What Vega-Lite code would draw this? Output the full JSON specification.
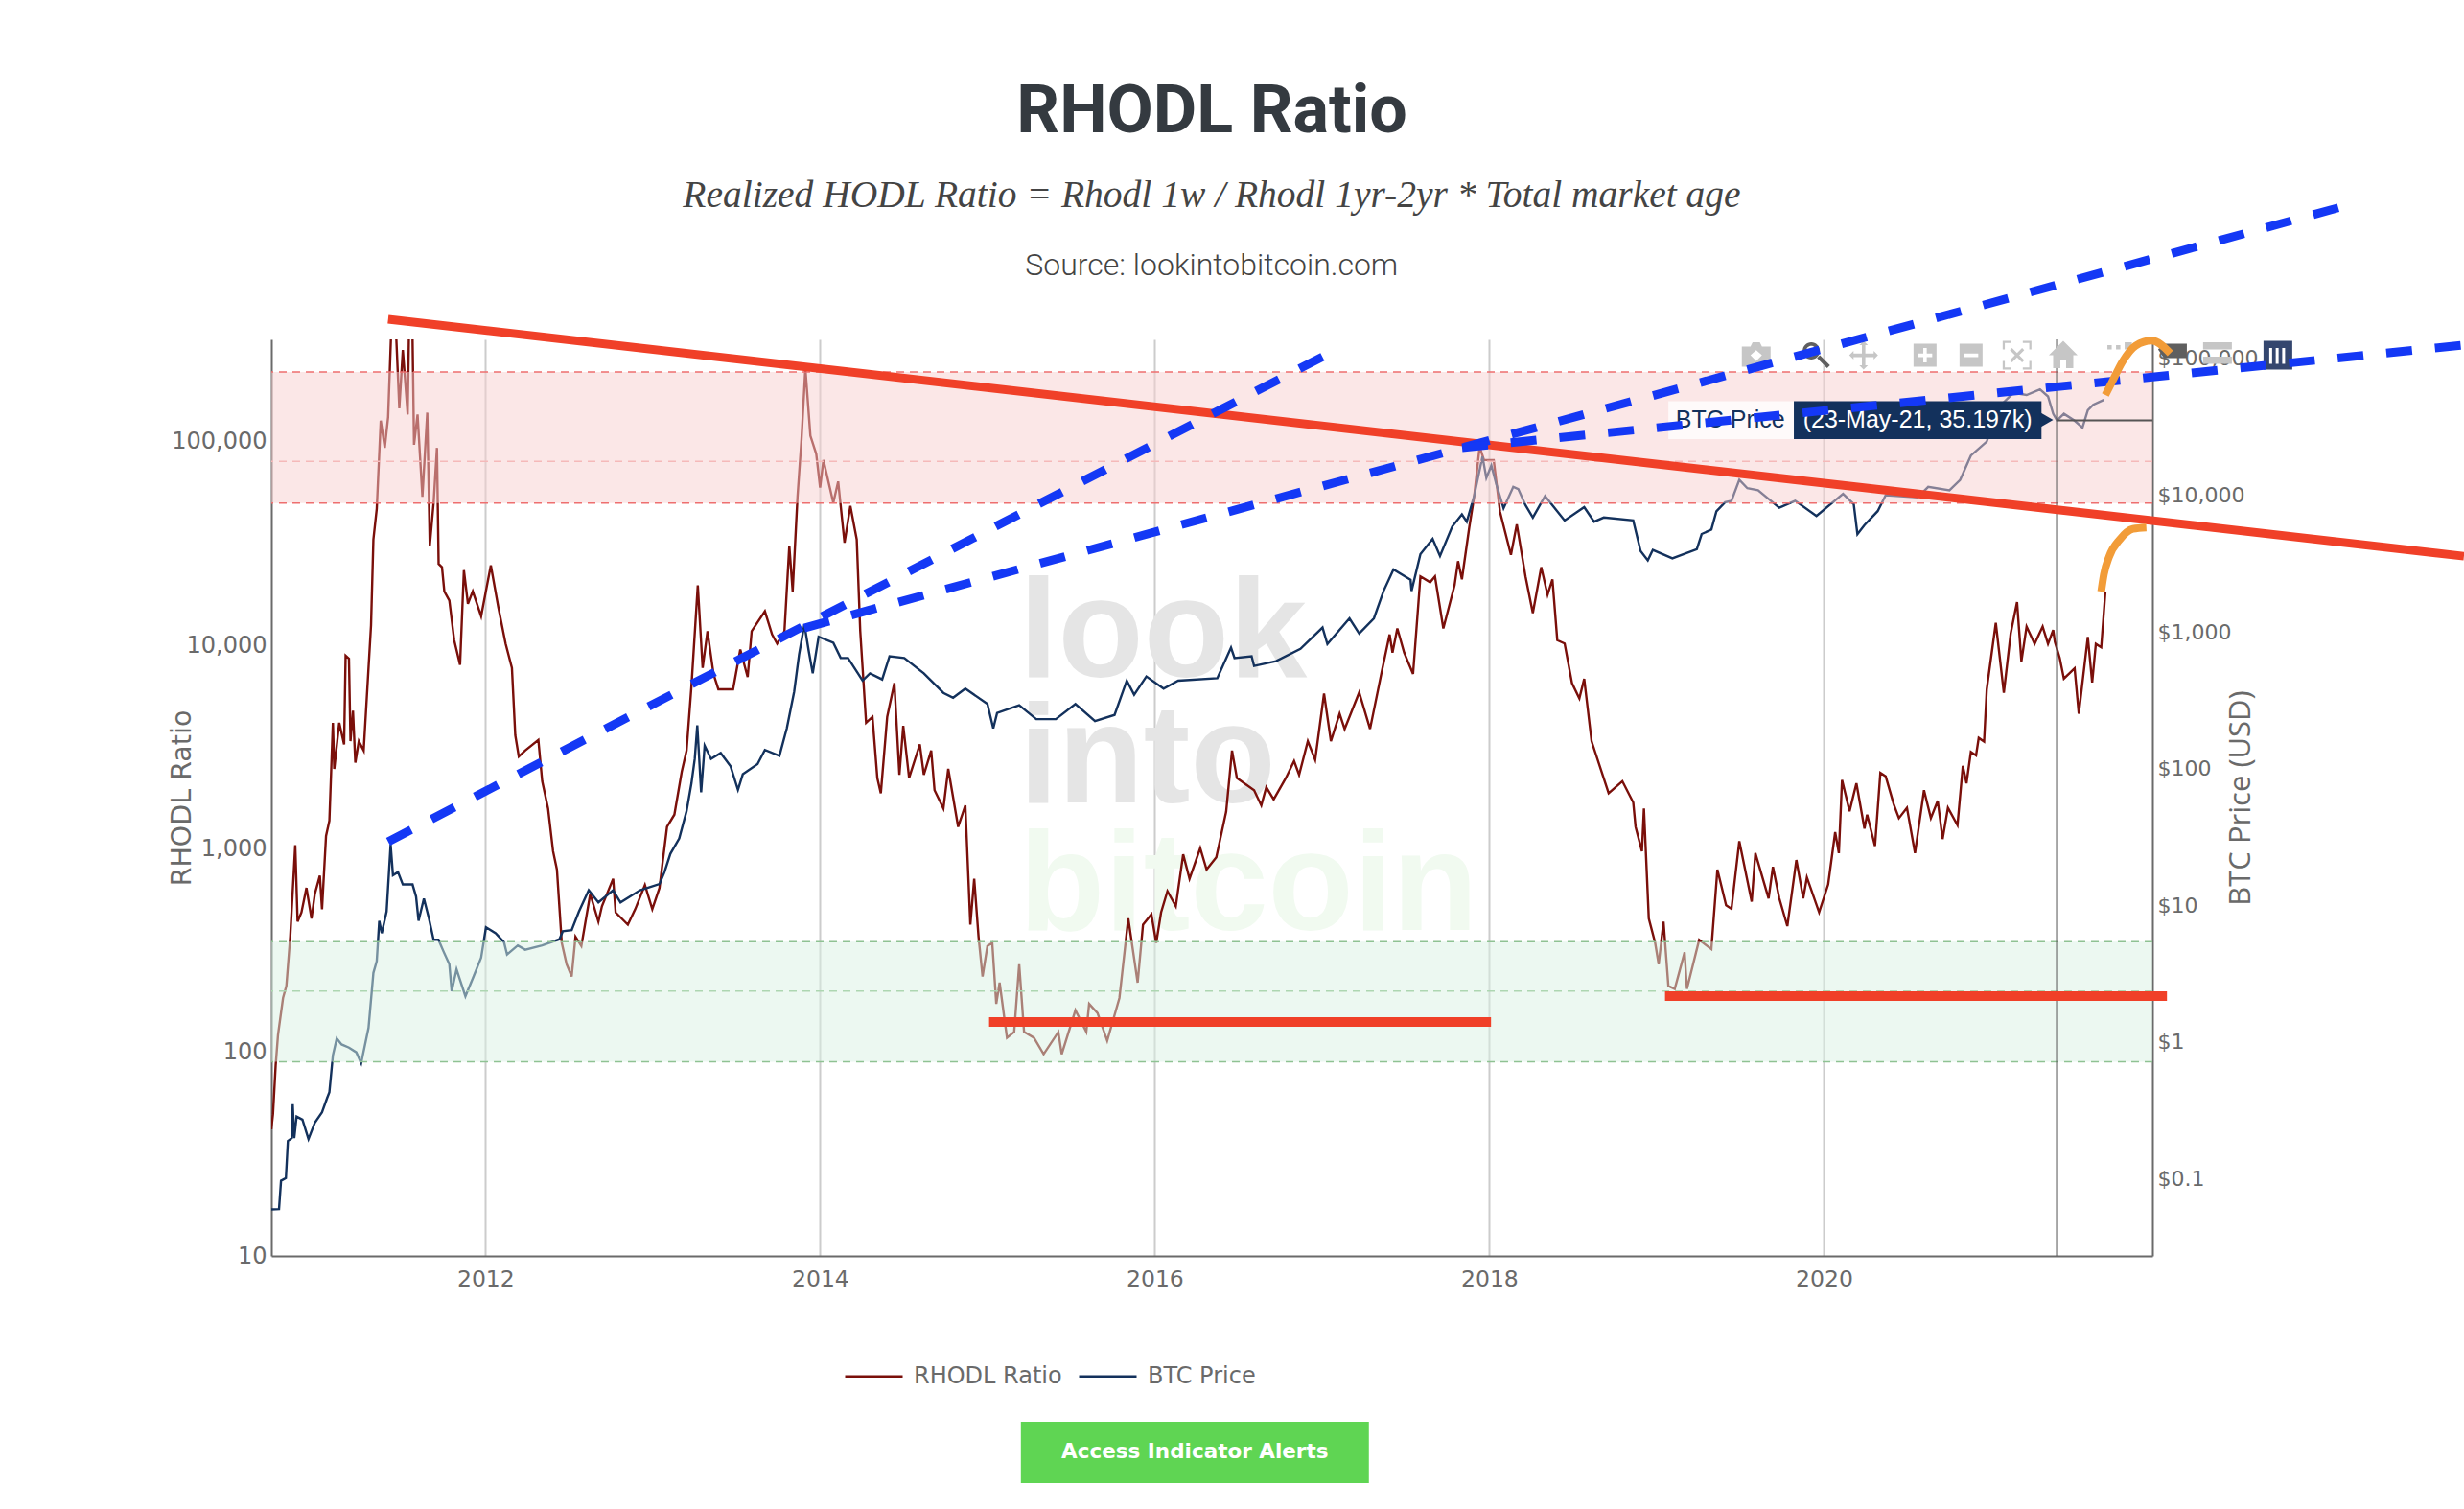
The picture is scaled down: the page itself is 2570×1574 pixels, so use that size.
{
"$schema":"https://vega.github.io/schema/vega-lite/v6.json",
"autosize":{"type":"none"},
"padding":{"left":283,"top":354,"right":325,"bottom":264},
"width":1962,"height":956,
"background":"white",
"title":{"text":"RHODL Ratio","subtitle":"Realized HODL Ratio = Rhodl 1w / Rhodl 1yr-2yr * Total market age","anchor":"middle","frame":"group","offset":-26,"font":"Roboto","fontWeight":"bold","fontSize":70,"color":"#343a40","subtitleFont":"Liberation Serif","subtitleFontStyle":"italic","subtitleFontSize":39.5,"subtitleColor":"#444444","subtitlePadding":32},
"config":{"view":{"stroke":null},"axis":{"labelFont":"DejaVu Sans","titleFont":"DejaVu Sans","labelFontSize":22,"titleFontSize":26,"labelColor":"#6a6a6a","titleColor":"#6a6a6a","titleFontWeight":"normal","ticks":false,"domainColor":"#6a6a6a","domainWidth":2}},
"datasets":{
"rhodl":[
{"year":2010.72,"value":41.9,"series":"RHODL Ratio"},{"year":2010.73,"value":49.7,"series":"RHODL Ratio"},{"year":2010.746,"value":86.5,"series":"RHODL Ratio"},{"year":2010.76,"value":122,"series":"RHODL Ratio"},{"year":2010.79,"value":185,"series":"RHODL Ratio"},{"year":2010.81,"value":212,"series":"RHODL Ratio"},{"year":2010.833,"value":370,"series":"RHODL Ratio"},{"year":2010.863,"value":1042,"series":"RHODL Ratio"},{"year":2010.877,"value":439,"series":"RHODL Ratio"},{"year":2010.9,"value":487,"series":"RHODL Ratio"},{"year":2010.93,"value":643,"series":"RHODL Ratio"},{"year":2010.96,"value":455,"series":"RHODL Ratio"},{"year":2010.98,"value":600,"series":"RHODL Ratio"},{"year":2011.01,"value":738,"series":"RHODL Ratio"},{"year":2011.023,"value":505,"series":"RHODL Ratio"},{"year":2011.047,"value":1156,"series":"RHODL Ratio"},{"year":2011.067,"value":1374,"series":"RHODL Ratio"},{"year":2011.088,"value":4160,"series":"RHODL Ratio"},{"year":2011.096,"value":2470,"series":"RHODL Ratio"},{"year":2011.126,"value":4160,"series":"RHODL Ratio"},{"year":2011.155,"value":3260,"series":"RHODL Ratio"},{"year":2011.164,"value":8890,"series":"RHODL Ratio"},{"year":2011.184,"value":8590,"series":"RHODL Ratio"},{"year":2011.193,"value":3380,"series":"RHODL Ratio"},{"year":2011.208,"value":4775,"series":"RHODL Ratio"},{"year":2011.222,"value":2650,"series":"RHODL Ratio"},{"year":2011.243,"value":3380,"series":"RHODL Ratio"},{"year":2011.272,"value":3040,"series":"RHODL Ratio"},{"year":2011.316,"value":12560,"series":"RHODL Ratio"},{"year":2011.33,"value":33100,"series":"RHODL Ratio"},{"year":2011.35,"value":46700,"series":"RHODL Ratio"},{"year":2011.374,"value":127000,"series":"RHODL Ratio"},{"year":2011.398,"value":93300,"series":"RHODL Ratio"},{"year":2011.418,"value":132000,"series":"RHODL Ratio"},{"year":2011.439,"value":400000,"series":"RHODL Ratio"},{"year":2011.462,"value":400000,"series":"RHODL Ratio"},{"year":2011.485,"value":146000,"series":"RHODL Ratio"},{"year":2011.506,"value":282000,"series":"RHODL Ratio"},{"year":2011.535,"value":136000,"series":"RHODL Ratio"},{"year":2011.544,"value":400000,"series":"RHODL Ratio"},{"year":2011.564,"value":330000,"series":"RHODL Ratio"},{"year":2011.573,"value":96600,"series":"RHODL Ratio"},{"year":2011.594,"value":136000,"series":"RHODL Ratio"},{"year":2011.623,"value":53700,"series":"RHODL Ratio"},{"year":2011.652,"value":139000,"series":"RHODL Ratio"},{"year":2011.667,"value":30800,"series":"RHODL Ratio"},{"year":2011.69,"value":50100,"series":"RHODL Ratio"},{"year":2011.71,"value":93300,"series":"RHODL Ratio"},{"year":2011.72,"value":25100,"series":"RHODL Ratio"},{"year":2011.74,"value":24200,"series":"RHODL Ratio"},{"year":2011.754,"value":18400,"series":"RHODL Ratio"},{"year":2011.784,"value":16600,"series":"RHODL Ratio"},{"year":2011.813,"value":10600,"series":"RHODL Ratio"},{"year":2011.848,"value":8010,"series":"RHODL Ratio"},{"year":2011.871,"value":23400,"series":"RHODL Ratio"},{"year":2011.895,"value":16000,"series":"RHODL Ratio"},{"year":2011.924,"value":18400,"series":"RHODL Ratio"},{"year":2011.974,"value":13900,"series":"RHODL Ratio"},{"year":2012.032,"value":24700,"series":"RHODL Ratio"},{"year":2012.076,"value":15500,"series":"RHODL Ratio"},{"year":2012.12,"value":10200,"series":"RHODL Ratio"},{"year":2012.158,"value":7740,"series":"RHODL Ratio"},{"year":2012.178,"value":3620,"series":"RHODL Ratio"},{"year":2012.199,"value":2840,"series":"RHODL Ratio"},{"year":2012.237,"value":3040,"series":"RHODL Ratio"},{"year":2012.316,"value":3430,"series":"RHODL Ratio"},{"year":2012.339,"value":2150,"series":"RHODL Ratio"},{"year":2012.374,"value":1580,"series":"RHODL Ratio"},{"year":2012.404,"value":973,"series":"RHODL Ratio"},{"year":2012.427,"value":791,"series":"RHODL Ratio"},{"year":2012.456,"value":345,"series":"RHODL Ratio"},{"year":2012.485,"value":271,"series":"RHODL Ratio"},{"year":2012.515,"value":236,"series":"RHODL Ratio"},{"year":2012.538,"value":370,"series":"RHODL Ratio"},{"year":2012.573,"value":333,"series":"RHODL Ratio"},{"year":2012.626,"value":600,"series":"RHODL Ratio"},{"year":2012.675,"value":439,"series":"RHODL Ratio"},{"year":2012.696,"value":522,"series":"RHODL Ratio"},{"year":2012.763,"value":713,"series":"RHODL Ratio"},{"year":2012.778,"value":487,"series":"RHODL Ratio"},{"year":2012.851,"value":424,"series":"RHODL Ratio"},{"year":2012.895,"value":505,"series":"RHODL Ratio"},{"year":2012.953,"value":665,"series":"RHODL Ratio"},{"year":2012.997,"value":505,"series":"RHODL Ratio"},{"year":2013.04,"value":643,"series":"RHODL Ratio"},{"year":2013.085,"value":1282,"series":"RHODL Ratio"},{"year":2013.129,"value":1472,"series":"RHODL Ratio"},{"year":2013.173,"value":2390,"series":"RHODL Ratio"},{"year":2013.202,"value":3040,"series":"RHODL Ratio"},{"year":2013.231,"value":6290,"series":"RHODL Ratio"},{"year":2013.269,"value":19700,"series":"RHODL Ratio"},{"year":2013.298,"value":7740,"series":"RHODL Ratio"},{"year":2013.327,"value":11720,"series":"RHODL Ratio"},{"year":2013.363,"value":7230,"series":"RHODL Ratio"},{"year":2013.392,"value":6080,"series":"RHODL Ratio"},{"year":2013.48,"value":6080,"series":"RHODL Ratio"},{"year":2013.523,"value":9530,"series":"RHODL Ratio"},{"year":2013.567,"value":6980,"series":"RHODL Ratio"},{"year":2013.591,"value":11720,"series":"RHODL Ratio"},{"year":2013.67,"value":14700,"series":"RHODL Ratio"},{"year":2013.713,"value":11300,"series":"RHODL Ratio"},{"year":2013.743,"value":10200,"series":"RHODL Ratio"},{"year":2013.787,"value":11720,"series":"RHODL Ratio"},{"year":2013.816,"value":30800,"series":"RHODL Ratio"},{"year":2013.836,"value":18400,"series":"RHODL Ratio"},{"year":2013.865,"value":53700,"series":"RHODL Ratio"},{"year":2013.889,"value":103500,"series":"RHODL Ratio"},{"year":2013.912,"value":229000,"series":"RHODL Ratio"},{"year":2013.942,"value":107000,"series":"RHODL Ratio"},{"year":2013.977,"value":87100,"series":"RHODL Ratio"},{"year":2014.0,"value":59600,"series":"RHODL Ratio"},{"year":2014.02,"value":81300,"series":"RHODL Ratio"},{"year":2014.079,"value":50100,"series":"RHODL Ratio"},{"year":2014.108,"value":63800,"series":"RHODL Ratio"},{"year":2014.146,"value":31900,"series":"RHODL Ratio"},{"year":2014.181,"value":48400,"series":"RHODL Ratio"},{"year":2014.219,"value":33100,"series":"RHODL Ratio"},{"year":2014.24,"value":11720,"series":"RHODL Ratio"},{"year":2014.275,"value":4160,"series":"RHODL Ratio"},{"year":2014.313,"value":4450,"series":"RHODL Ratio"},{"year":2014.342,"value":2230,"series":"RHODL Ratio"},{"year":2014.363,"value":1875,"series":"RHODL Ratio"},{"year":2014.401,"value":4450,"series":"RHODL Ratio"},{"year":2014.444,"value":6520,"series":"RHODL Ratio"},{"year":2014.474,"value":2310,"series":"RHODL Ratio"},{"year":2014.497,"value":4020,"series":"RHODL Ratio"},{"year":2014.532,"value":2230,"series":"RHODL Ratio"},{"year":2014.596,"value":3260,"series":"RHODL Ratio"},{"year":2014.62,"value":2310,"series":"RHODL Ratio"},{"year":2014.664,"value":3040,"series":"RHODL Ratio"},{"year":2014.684,"value":1940,"series":"RHODL Ratio"},{"year":2014.737,"value":1580,"series":"RHODL Ratio"},{"year":2014.766,"value":2470,"series":"RHODL Ratio"},{"year":2014.825,"value":1282,"series":"RHODL Ratio"},{"year":2014.868,"value":1633,"series":"RHODL Ratio"},{"year":2014.898,"value":424,"series":"RHODL Ratio"},{"year":2014.921,"value":713,"series":"RHODL Ratio"},{"year":2014.947,"value":370,"series":"RHODL Ratio"},{"year":2014.971,"value":236,"series":"RHODL Ratio"},{"year":2015.0,"value":333,"series":"RHODL Ratio"},{"year":2015.029,"value":345,"series":"RHODL Ratio"},{"year":2015.053,"value":173,"series":"RHODL Ratio"},{"year":2015.073,"value":220,"series":"RHODL Ratio"},{"year":2015.117,"value":118,"series":"RHODL Ratio"},{"year":2015.16,"value":126,"series":"RHODL Ratio"},{"year":2015.19,"value":271,"series":"RHODL Ratio"},{"year":2015.219,"value":126,"series":"RHODL Ratio"},{"year":2015.278,"value":118,"series":"RHODL Ratio"},{"year":2015.336,"value":98,"series":"RHODL Ratio"},{"year":2015.424,"value":126,"series":"RHODL Ratio"},{"year":2015.444,"value":98,"series":"RHODL Ratio"},{"year":2015.526,"value":161,"series":"RHODL Ratio"},{"year":2015.591,"value":126,"series":"RHODL Ratio"},{"year":2015.608,"value":173,"series":"RHODL Ratio"},{"year":2015.658,"value":156,"series":"RHODL Ratio"},{"year":2015.716,"value":114,"series":"RHODL Ratio"},{"year":2015.789,"value":185,"series":"RHODL Ratio"},{"year":2015.842,"value":455,"series":"RHODL Ratio"},{"year":2015.898,"value":220,"series":"RHODL Ratio"},{"year":2015.93,"value":424,"series":"RHODL Ratio"},{"year":2015.98,"value":477,"series":"RHODL Ratio"},{"year":2016.009,"value":345,"series":"RHODL Ratio"},{"year":2016.038,"value":487,"series":"RHODL Ratio"},{"year":2016.076,"value":620,"series":"RHODL Ratio"},{"year":2016.126,"value":522,"series":"RHODL Ratio"},{"year":2016.17,"value":940,"series":"RHODL Ratio"},{"year":2016.208,"value":713,"series":"RHODL Ratio"},{"year":2016.272,"value":1007,"series":"RHODL Ratio"},{"year":2016.31,"value":791,"series":"RHODL Ratio"},{"year":2016.368,"value":908,"series":"RHODL Ratio"},{"year":2016.427,"value":1524,"series":"RHODL Ratio"},{"year":2016.462,"value":3040,"series":"RHODL Ratio"},{"year":2016.491,"value":2230,"series":"RHODL Ratio"},{"year":2016.594,"value":1940,"series":"RHODL Ratio"},{"year":2016.637,"value":1633,"series":"RHODL Ratio"},{"year":2016.667,"value":2010,"series":"RHODL Ratio"},{"year":2016.711,"value":1750,"series":"RHODL Ratio"},{"year":2016.784,"value":2230,"series":"RHODL Ratio"},{"year":2016.833,"value":2700,"series":"RHODL Ratio"},{"year":2016.863,"value":2310,"series":"RHODL Ratio"},{"year":2016.915,"value":3380,"series":"RHODL Ratio"},{"year":2016.959,"value":2740,"series":"RHODL Ratio"},{"year":2017.012,"value":5790,"series":"RHODL Ratio"},{"year":2017.053,"value":3380,"series":"RHODL Ratio"},{"year":2017.105,"value":4610,"series":"RHODL Ratio"},{"year":2017.135,"value":3880,"series":"RHODL Ratio"},{"year":2017.222,"value":5870,"series":"RHODL Ratio"},{"year":2017.287,"value":3880,"series":"RHODL Ratio"},{"year":2017.354,"value":7230,"series":"RHODL Ratio"},{"year":2017.404,"value":11300,"series":"RHODL Ratio"},{"year":2017.421,"value":9200,"series":"RHODL Ratio"},{"year":2017.45,"value":12100,"series":"RHODL Ratio"},{"year":2017.491,"value":9200,"series":"RHODL Ratio"},{"year":2017.544,"value":7230,"series":"RHODL Ratio"},{"year":2017.588,"value":21800,"series":"RHODL Ratio"},{"year":2017.646,"value":20400,"series":"RHODL Ratio"},{"year":2017.675,"value":21800,"series":"RHODL Ratio"},{"year":2017.725,"value":12100,"series":"RHODL Ratio"},{"year":2017.792,"value":19700,"series":"RHODL Ratio"},{"year":2017.813,"value":25900,"series":"RHODL Ratio"},{"year":2017.836,"value":21100,"series":"RHODL Ratio"},{"year":2017.88,"value":38000,"series":"RHODL Ratio"},{"year":2017.909,"value":53700,"series":"RHODL Ratio"},{"year":2017.942,"value":94600,"series":"RHODL Ratio"},{"year":2017.968,"value":81300,"series":"RHODL Ratio"},{"year":2018.026,"value":81300,"series":"RHODL Ratio"},{"year":2018.064,"value":45200,"series":"RHODL Ratio"},{"year":2018.129,"value":27800,"series":"RHODL Ratio"},{"year":2018.164,"value":39300,"series":"RHODL Ratio"},{"year":2018.216,"value":21800,"series":"RHODL Ratio"},{"year":2018.26,"value":14400,"series":"RHODL Ratio"},{"year":2018.31,"value":24200,"series":"RHODL Ratio"},{"year":2018.348,"value":17700,"series":"RHODL Ratio"},{"year":2018.377,"value":21100,"series":"RHODL Ratio"},{"year":2018.406,"value":10600,"series":"RHODL Ratio"},{"year":2018.45,"value":10200,"series":"RHODL Ratio"},{"year":2018.494,"value":6520,"series":"RHODL Ratio"},{"year":2018.538,"value":5480,"series":"RHODL Ratio"},{"year":2018.567,"value":6840,"series":"RHODL Ratio"},{"year":2018.611,"value":3380,"series":"RHODL Ratio"},{"year":2018.713,"value":1875,"series":"RHODL Ratio"},{"year":2018.795,"value":2150,"series":"RHODL Ratio"},{"year":2018.86,"value":1690,"series":"RHODL Ratio"},{"year":2018.874,"value":1282,"series":"RHODL Ratio"},{"year":2018.912,"value":973,"series":"RHODL Ratio"},{"year":2018.924,"value":1580,"series":"RHODL Ratio"},{"year":2018.953,"value":455,"series":"RHODL Ratio"},{"year":2018.991,"value":345,"series":"RHODL Ratio"},{"year":2019.012,"value":271,"series":"RHODL Ratio"},{"year":2019.041,"value":439,"series":"RHODL Ratio"},{"year":2019.07,"value":212,"series":"RHODL Ratio"},{"year":2019.108,"value":205,"series":"RHODL Ratio"},{"year":2019.167,"value":310,"series":"RHODL Ratio"},{"year":2019.181,"value":205,"series":"RHODL Ratio"},{"year":2019.254,"value":357,"series":"RHODL Ratio"},{"year":2019.327,"value":322,"series":"RHODL Ratio"},{"year":2019.363,"value":791,"series":"RHODL Ratio"},{"year":2019.415,"value":528,"series":"RHODL Ratio"},{"year":2019.447,"value":507,"series":"RHODL Ratio"},{"year":2019.494,"value":1090,"series":"RHODL Ratio"},{"year":2019.568,"value":550,"series":"RHODL Ratio"},{"year":2019.59,"value":953,"series":"RHODL Ratio"},{"year":2019.669,"value":571,"series":"RHODL Ratio"},{"year":2019.695,"value":815,"series":"RHODL Ratio"},{"year":2019.733,"value":571,"series":"RHODL Ratio"},{"year":2019.781,"value":417,"series":"RHODL Ratio"},{"year":2019.835,"value":881,"series":"RHODL Ratio"},{"year":2019.876,"value":571,"series":"RHODL Ratio"},{"year":2019.898,"value":724,"series":"RHODL Ratio"},{"year":2019.971,"value":488,"series":"RHODL Ratio"},{"year":2020.025,"value":668,"series":"RHODL Ratio"},{"year":2020.067,"value":1208,"series":"RHODL Ratio"},{"year":2020.089,"value":953,"series":"RHODL Ratio"},{"year":2020.108,"value":2182,"series":"RHODL Ratio"},{"year":2020.153,"value":1531,"series":"RHODL Ratio"},{"year":2020.194,"value":2100,"series":"RHODL Ratio"},{"year":2020.242,"value":1257,"series":"RHODL Ratio"},{"year":2020.258,"value":1472,"series":"RHODL Ratio"},{"year":2020.305,"value":1032,"series":"RHODL Ratio"},{"year":2020.337,"value":2360,"series":"RHODL Ratio"},{"year":2020.369,"value":2270,"series":"RHODL Ratio"},{"year":2020.417,"value":1656,"series":"RHODL Ratio"},{"year":2020.448,"value":1415,"series":"RHODL Ratio"},{"year":2020.496,"value":1592,"series":"RHODL Ratio"},{"year":2020.544,"value":953,"series":"RHODL Ratio"},{"year":2020.598,"value":1940,"series":"RHODL Ratio"},{"year":2020.639,"value":1415,"series":"RHODL Ratio"},{"year":2020.68,"value":1722,"series":"RHODL Ratio"},{"year":2020.709,"value":1117,"series":"RHODL Ratio"},{"year":2020.741,"value":1592,"series":"RHODL Ratio"},{"year":2020.798,"value":1307,"series":"RHODL Ratio"},{"year":2020.83,"value":2559,"series":"RHODL Ratio"},{"year":2020.852,"value":2100,"series":"RHODL Ratio"},{"year":2020.878,"value":2992,"series":"RHODL Ratio"},{"year":2020.909,"value":2877,"series":"RHODL Ratio"},{"year":2020.925,"value":3508,"series":"RHODL Ratio"},{"year":2020.957,"value":3365,"series":"RHODL Ratio"},{"year":2020.973,"value":6080,"series":"RHODL Ratio"},{"year":2021.027,"value":12880,"series":"RHODL Ratio"},{"year":2021.075,"value":5850,"series":"RHODL Ratio"},{"year":2021.116,"value":11430,"series":"RHODL Ratio"},{"year":2021.154,"value":16300,"series":"RHODL Ratio"},{"year":2021.18,"value":8340,"series":"RHODL Ratio"},{"year":2021.211,"value":12360,"series":"RHODL Ratio"},{"year":2021.259,"value":10160,"series":"RHODL Ratio"},{"year":2021.307,"value":12360,"series":"RHODL Ratio"},{"year":2021.339,"value":10160,"series":"RHODL Ratio"},{"year":2021.37,"value":11880,"series":"RHODL Ratio"},{"year":2021.38,"value":10400,"series":"RHODL Ratio"},{"year":2021.409,"value":8670,"series":"RHODL Ratio"},{"year":2021.434,"value":6850,"series":"RHODL Ratio"},{"year":2021.498,"value":7700,"series":"RHODL Ratio"},{"year":2021.523,"value":4610,"series":"RHODL Ratio"},{"year":2021.577,"value":11000,"series":"RHODL Ratio"},{"year":2021.603,"value":6570,"series":"RHODL Ratio"},{"year":2021.625,"value":10160,"series":"RHODL Ratio"},{"year":2021.657,"value":9770,"series":"RHODL Ratio"},{"year":2021.682,"value":18370,"series":"RHODL Ratio"}
],
"price":[
{"year":2010.72,"value":0.0596,"series":"BTC Price"},{"year":2010.766,"value":0.06,"series":"BTC Price"},{"year":2010.778,"value":0.0966,"series":"BTC Price"},{"year":2010.807,"value":0.101,"series":"BTC Price"},{"year":2010.819,"value":0.189,"series":"BTC Price"},{"year":2010.842,"value":0.198,"series":"BTC Price"},{"year":2010.848,"value":0.35,"series":"BTC Price"},{"year":2010.857,"value":0.198,"series":"BTC Price"},{"year":2010.871,"value":0.285,"series":"BTC Price"},{"year":2010.906,"value":0.27,"series":"BTC Price"},{"year":2010.942,"value":0.195,"series":"BTC Price"},{"year":2010.98,"value":0.257,"series":"BTC Price"},{"year":2011.023,"value":0.306,"series":"BTC Price"},{"year":2011.053,"value":0.388,"series":"BTC Price"},{"year":2011.067,"value":0.43,"series":"BTC Price"},{"year":2011.088,"value":0.8,"series":"BTC Price"},{"year":2011.111,"value":1.06,"series":"BTC Price"},{"year":2011.14,"value":0.96,"series":"BTC Price"},{"year":2011.184,"value":0.91,"series":"BTC Price"},{"year":2011.228,"value":0.84,"series":"BTC Price"},{"year":2011.257,"value":0.7,"series":"BTC Price"},{"year":2011.301,"value":1.27,"series":"BTC Price"},{"year":2011.33,"value":3.2,"series":"BTC Price"},{"year":2011.35,"value":3.9,"series":"BTC Price"},{"year":2011.365,"value":7.7,"series":"BTC Price"},{"year":2011.38,"value":6.25,"series":"BTC Price"},{"year":2011.409,"value":9,"series":"BTC Price"},{"year":2011.433,"value":27.8,"series":"BTC Price"},{"year":2011.447,"value":16.6,"series":"BTC Price"},{"year":2011.477,"value":17.5,"series":"BTC Price"},{"year":2011.506,"value":14.2,"series":"BTC Price"},{"year":2011.564,"value":14.2,"series":"BTC Price"},{"year":2011.585,"value":11.6,"series":"BTC Price"},{"year":2011.6,"value":7.7,"series":"BTC Price"},{"year":2011.632,"value":11.2,"series":"BTC Price"},{"year":2011.661,"value":8.1,"series":"BTC Price"},{"year":2011.69,"value":5.6,"series":"BTC Price"},{"year":2011.719,"value":5.6,"series":"BTC Price"},{"year":2011.749,"value":4.6,"series":"BTC Price"},{"year":2011.784,"value":3.7,"series":"BTC Price"},{"year":2011.798,"value":2.35,"series":"BTC Price"},{"year":2011.827,"value":3.4,"series":"BTC Price"},{"year":2011.88,"value":2.16,"series":"BTC Price"},{"year":2011.93,"value":3.04,"series":"BTC Price"},{"year":2011.974,"value":4.14,"series":"BTC Price"},{"year":2012.003,"value":6.9,"series":"BTC Price"},{"year":2012.061,"value":6.25,"series":"BTC Price"},{"year":2012.111,"value":5.36,"series":"BTC Price"},{"year":2012.129,"value":4.36,"series":"BTC Price"},{"year":2012.193,"value":5.09,"series":"BTC Price"},{"year":2012.237,"value":4.73,"series":"BTC Price"},{"year":2012.339,"value":5.09,"series":"BTC Price"},{"year":2012.442,"value":5.64,"series":"BTC Price"},{"year":2012.462,"value":6.45,"series":"BTC Price"},{"year":2012.515,"value":6.58,"series":"BTC Price"},{"year":2012.558,"value":8.97,"series":"BTC Price"},{"year":2012.617,"value":12.9,"series":"BTC Price"},{"year":2012.675,"value":10.5,"series":"BTC Price"},{"year":2012.763,"value":12.9,"series":"BTC Price"},{"year":2012.807,"value":10.5,"series":"BTC Price"},{"year":2012.924,"value":12.9,"series":"BTC Price"},{"year":2013.04,"value":14.3,"series":"BTC Price"},{"year":2013.07,"value":17.5,"series":"BTC Price"},{"year":2013.105,"value":23.8,"series":"BTC Price"},{"year":2013.158,"value":30.8,"series":"BTC Price"},{"year":2013.202,"value":49,"series":"BTC Price"},{"year":2013.231,"value":78,"series":"BTC Price"},{"year":2013.251,"value":118,"series":"BTC Price"},{"year":2013.266,"value":207,"series":"BTC Price"},{"year":2013.289,"value":67,"series":"BTC Price"},{"year":2013.31,"value":147,"series":"BTC Price"},{"year":2013.348,"value":118,"series":"BTC Price"},{"year":2013.406,"value":130,"series":"BTC Price"},{"year":2013.465,"value":104,"series":"BTC Price"},{"year":2013.509,"value":70,"series":"BTC Price"},{"year":2013.538,"value":91,"series":"BTC Price"},{"year":2013.626,"value":108,"series":"BTC Price"},{"year":2013.67,"value":137,"series":"BTC Price"},{"year":2013.757,"value":124,"series":"BTC Price"},{"year":2013.801,"value":197,"series":"BTC Price"},{"year":2013.845,"value":365,"series":"BTC Price"},{"year":2013.874,"value":680,"series":"BTC Price"},{"year":2013.906,"value":1135,"series":"BTC Price"},{"year":2013.933,"value":713,"series":"BTC Price"},{"year":2013.956,"value":497,"series":"BTC Price"},{"year":2013.991,"value":923,"series":"BTC Price"},{"year":2014.079,"value":832,"series":"BTC Price"},{"year":2014.123,"value":644,"series":"BTC Price"},{"year":2014.167,"value":644,"series":"BTC Price"},{"year":2014.254,"value":440,"series":"BTC Price"},{"year":2014.298,"value":497,"series":"BTC Price"},{"year":2014.371,"value":449,"series":"BTC Price"},{"year":2014.415,"value":664,"series":"BTC Price"},{"year":2014.503,"value":644,"series":"BTC Price"},{"year":2014.62,"value":497,"series":"BTC Price"},{"year":2014.737,"value":358,"series":"BTC Price"},{"year":2014.795,"value":330,"series":"BTC Price"},{"year":2014.868,"value":385,"series":"BTC Price"},{"year":2015.0,"value":297,"series":"BTC Price"},{"year":2015.035,"value":197,"series":"BTC Price"},{"year":2015.058,"value":255,"series":"BTC Price"},{"year":2015.19,"value":291,"series":"BTC Price"},{"year":2015.292,"value":230,"series":"BTC Price"},{"year":2015.409,"value":230,"series":"BTC Price"},{"year":2015.526,"value":297,"series":"BTC Price"},{"year":2015.643,"value":223,"series":"BTC Price"},{"year":2015.76,"value":247,"series":"BTC Price"},{"year":2015.833,"value":440,"series":"BTC Price"},{"year":2015.877,"value":347,"series":"BTC Price"},{"year":2015.95,"value":472,"series":"BTC Price"},{"year":2016.053,"value":385,"series":"BTC Price"},{"year":2016.14,"value":440,"series":"BTC Price"},{"year":2016.374,"value":458,"series":"BTC Price"},{"year":2016.456,"value":767,"series":"BTC Price"},{"year":2016.477,"value":644,"series":"BTC Price"},{"year":2016.579,"value":664,"series":"BTC Price"},{"year":2016.594,"value":563,"series":"BTC Price"},{"year":2016.725,"value":611,"series":"BTC Price"},{"year":2016.871,"value":751,"series":"BTC Price"},{"year":2017.003,"value":1076,"series":"BTC Price"},{"year":2017.032,"value":815,"series":"BTC Price"},{"year":2017.164,"value":1256,"series":"BTC Price"},{"year":2017.222,"value":971,"series":"BTC Price"},{"year":2017.31,"value":1256,"series":"BTC Price"},{"year":2017.368,"value":1995,"series":"BTC Price"},{"year":2017.427,"value":2866,"series":"BTC Price"},{"year":2017.529,"value":2405,"series":"BTC Price"},{"year":2017.535,"value":1995,"series":"BTC Price"},{"year":2017.588,"value":3704,"series":"BTC Price"},{"year":2017.661,"value":4790,"series":"BTC Price"},{"year":2017.705,"value":3596,"series":"BTC Price"},{"year":2017.778,"value":5890,"series":"BTC Price"},{"year":2017.836,"value":7240,"series":"BTC Price"},{"year":2017.865,"value":6390,"series":"BTC Price"},{"year":2017.909,"value":9860,"series":"BTC Price"},{"year":2017.959,"value":19200,"series":"BTC Price"},{"year":2017.982,"value":13400,"series":"BTC Price"},{"year":2018.012,"value":16500,"series":"BTC Price"},{"year":2018.041,"value":12100,"series":"BTC Price"},{"year":2018.085,"value":8020,"series":"BTC Price"},{"year":2018.143,"value":11500,"series":"BTC Price"},{"year":2018.173,"value":11100,"series":"BTC Price"},{"year":2018.216,"value":8450,"series":"BTC Price"},{"year":2018.26,"value":6870,"series":"BTC Price"},{"year":2018.333,"value":9860,"series":"BTC Price"},{"year":2018.45,"value":6530,"series":"BTC Price"},{"year":2018.567,"value":8180,"series":"BTC Price"},{"year":2018.626,"value":6400,"series":"BTC Price"},{"year":2018.684,"value":6870,"series":"BTC Price"},{"year":2018.86,"value":6530,"series":"BTC Price"},{"year":2018.904,"value":3900,"series":"BTC Price"},{"year":2018.947,"value":3340,"series":"BTC Price"},{"year":2018.977,"value":3980,"series":"BTC Price"},{"year":2019.094,"value":3450,"series":"BTC Price"},{"year":2019.24,"value":4030,"series":"BTC Price"},{"year":2019.269,"value":5200,"series":"BTC Price"},{"year":2019.327,"value":5600,"series":"BTC Price"},{"year":2019.357,"value":7620,"series":"BTC Price"},{"year":2019.409,"value":8890,"series":"BTC Price"},{"year":2019.447,"value":9100,"series":"BTC Price"},{"year":2019.494,"value":12950,"series":"BTC Price"},{"year":2019.542,"value":11250,"series":"BTC Price"},{"year":2019.606,"value":10860,"series":"BTC Price"},{"year":2019.733,"value":8100,"series":"BTC Price"},{"year":2019.828,"value":9100,"series":"BTC Price"},{"year":2019.955,"value":7040,"series":"BTC Price"},{"year":2020.114,"value":10230,"series":"BTC Price"},{"year":2020.178,"value":8590,"series":"BTC Price"},{"year":2020.2,"value":5190,"series":"BTC Price"},{"year":2020.242,"value":6040,"series":"BTC Price"},{"year":2020.321,"value":7640,"series":"BTC Price"},{"year":2020.369,"value":10000,"series":"BTC Price"},{"year":2020.56,"value":9660,"series":"BTC Price"},{"year":2020.623,"value":11500,"series":"BTC Price"},{"year":2020.75,"value":10860,"series":"BTC Price"},{"year":2020.814,"value":12950,"series":"BTC Price"},{"year":2020.878,"value":19500,"series":"BTC Price"},{"year":2020.973,"value":24700,"series":"BTC Price"},{"year":2021.037,"value":41800,"series":"BTC Price"},{"year":2021.068,"value":47000,"series":"BTC Price"},{"year":2021.132,"value":56000,"series":"BTC Price"},{"year":2021.211,"value":54100,"series":"BTC Price"},{"year":2021.291,"value":59400,"series":"BTC Price"},{"year":2021.339,"value":52800,"series":"BTC Price"},{"year":2021.37,"value":39400,"series":"BTC Price"},{"year":2021.393,"value":35197,"series":"BTC Price"},{"year":2021.434,"value":39400,"series":"BTC Price"},{"year":2021.498,"value":35100,"series":"BTC Price"},{"year":2021.545,"value":31200,"series":"BTC Price"},{"year":2021.577,"value":41800,"series":"BTC Price"},{"year":2021.609,"value":45900,"series":"BTC Price"},{"year":2021.672,"value":49800,"series":"BTC Price"}
]
},
"resolve":{"scale":{"y":"independent"}},
"layer":[
{"data":{"values":[{"year":2015.19,"value":6998,"word":"look"},{"year":2015.19,"value":1698,"word":"into"}]},"mark":{"type":"text","font":"Liberation Sans","fontWeight":"bold","fontSize":146,"align":"left","baseline":"alphabetic","color":"#e5e5e5"},"encoding":{"x":{"field":"year","type":"quantitative","scale":{"domain":[2010.72,2021.963],"nice":false,"zero":false},"axis":{"title":null,"values":[2012,2014,2016,2018,2020],"format":"d","grid":true,"gridColor":"#cccccc","gridWidth":2,"labelPadding":12,"labelFontSize":23.5}},"y":{"field":"value","type":"quantitative","scale":{"type":"log","domain":[10,318400],"nice":false},"axis":{"orient":"left","title":"RHODL Ratio","titleFontSize":28.5,"titleX":-85,"titleY":478,"titleAlign":"center","titleBaseline":"alphabetic","values":[10,100,1000,10000,100000],"format":",","grid":false,"labelPadding":5,"labelFontSize":24}},"text":{"field":"word"}}},
{"data":{"values":[{"year":2015.19,"value":400,"word":"bitcoin"}]},"mark":{"type":"text","font":"Liberation Sans","fontWeight":"bold","fontSize":146,"align":"left","baseline":"alphabetic","color":"#f1faf0"},"encoding":{"x":{"field":"year","type":"quantitative","scale":{"domain":[2010.72,2021.963],"nice":false,"zero":false}},"y":{"field":"value","type":"quantitative","scale":{"type":"log","domain":[10,318400],"nice":false},"axis":null},"text":{"field":"word"}}},
{"data":{"name":"rhodl"},"mark":{"type":"line","strokeWidth":2.4,"clip":true,"interpolate":"linear"},"encoding":{"x":{"field":"year","type":"quantitative","scale":{"domain":[2010.72,2021.963],"nice":false,"zero":false}},"y":{"field":"value","type":"quantitative","scale":{"type":"log","domain":[10,318400],"nice":false},"axis":null},"color":{"field":"series","type":"nominal","scale":{"domain":["RHODL Ratio","BTC Price"],"range":["#7a0f0a","#13315c"]},"legend":{"title":null,"orient":"none","legendX":597,"legendY":1050,"direction":"horizontal","symbolType":"stroke","symbolSize":3600,"symbolStrokeWidth":2.5,"labelFont":"DejaVu Sans","labelFontSize":24,"labelColor":"#6a6a6a","labelOffset":10,"columnPadding":12}}}},
{"data":{"name":"price"},"mark":{"type":"line","strokeWidth":2.4,"interpolate":"linear"},"encoding":{"x":{"field":"year","type":"quantitative","scale":{"domain":[2010.72,2021.963],"nice":false,"zero":false}},"y":{"field":"value","type":"quantitative","scale":{"type":"log","domain":[0.02723,138000],"nice":false},"axis":{"orient":"right","title":"BTC Price (USD)","titleAngle":-90,"titleFont":"Open Sans","titleFontSize":31,"titleX":101,"titleY":478,"titleAlign":"center","titleBaseline":"alphabetic","values":[0.1,1,10,100,1000,10000,100000],"labelExpr":"datum.value < 1 ? '$0.1' : format(datum.value, '$,.0f')","grid":false,"labelPadding":5}},"color":{"field":"series","type":"nominal","scale":{"domain":["RHODL Ratio","BTC Price"],"range":["#7a0f0a","#13315c"]}}}},
{"data":{"values":[{"low":50000,"high":220000}]},"mark":{"type":"rect","color":"#f8d0d0","opacity":0.5},"encoding":{"y":{"field":"low","type":"quantitative","scale":{"type":"log","domain":[10,318400],"nice":false},"axis":null},"y2":{"field":"high"}}},
{"data":{"values":[{"low":90,"high":350}]},"mark":{"type":"rect","color":"#d9f1e3","opacity":0.5},"encoding":{"y":{"field":"low","type":"quantitative","scale":{"type":"log","domain":[10,318400],"nice":false},"axis":null},"y2":{"field":"high"}}},
{"data":{"values":[{"value":50000},{"value":220000}]},"mark":{"type":"rule","color":"#ee6f6f","strokeWidth":1.5,"strokeDash":[8,6]},"encoding":{"y":{"field":"value","type":"quantitative","scale":{"type":"log","domain":[10,318400],"nice":false},"axis":null}}},
{"data":{"values":[{"value":80000}]},"mark":{"type":"rule","color":"#f5b9b9","strokeWidth":1.5,"strokeDash":[8,6]},"encoding":{"y":{"field":"value","type":"quantitative","scale":{"type":"log","domain":[10,318400],"nice":false},"axis":null}}},
{"data":{"values":[{"value":90},{"value":350}]},"mark":{"type":"rule","color":"#8fc293","strokeWidth":1.5,"strokeDash":[8,6]},"encoding":{"y":{"field":"value","type":"quantitative","scale":{"type":"log","domain":[10,318400],"nice":false},"axis":null}}},
{"data":{"values":[{"value":200}]},"mark":{"type":"rule","color":"#add6b1","strokeWidth":1.5,"strokeDash":[8,6]},"encoding":{"y":{"field":"value","type":"quantitative","scale":{"type":"log","domain":[10,318400],"nice":false},"axis":null}}},
{"data":{"values":[{"year":2021.393}]},"mark":{"type":"rule","color":"#555555","strokeWidth":2},"encoding":{"x":{"field":"year","type":"quantitative","scale":{"domain":[2010.72,2021.963],"nice":false,"zero":false}}}},
{"data":{"values":[{"year":2021.393,"end":2021.963,"value":35197}]},"mark":{"type":"rule","color":"#555555","strokeWidth":2},"encoding":{"x":{"field":"year","type":"quantitative","scale":{"domain":[2010.72,2021.963],"nice":false,"zero":false}},"x2":{"field":"end"},"y":{"field":"value","type":"quantitative","scale":{"type":"log","domain":[0.02723,138000],"nice":false},"axis":null}}},
{"data":{"values":[{"start":2019.07,"end":2019.82,"low":103000,"high":158000}]},"mark":{"type":"rect","color":"#ffffff","opacity":0.8},"encoding":{"x":{"field":"start","type":"quantitative","scale":{"domain":[2010.72,2021.963],"nice":false,"zero":false}},"x2":{"field":"end"},"y":{"field":"low","type":"quantitative","scale":{"type":"log","domain":[10,318400],"nice":false},"axis":null},"y2":{"field":"high"}}},
{"data":{"values":[{"start":2019.82,"end":2021.3,"low":103000,"high":158000}]},"mark":{"type":"rect","color":"#13315c"},"encoding":{"x":{"field":"start","type":"quantitative","scale":{"domain":[2010.72,2021.963],"nice":false,"zero":false}},"x2":{"field":"end"},"y":{"field":"low","type":"quantitative","scale":{"type":"log","domain":[10,318400],"nice":false},"axis":null},"y2":{"field":"high"}}},
{"data":{"values":[{"year":2021.33,"value":128000}]},"mark":{"type":"point","shape":"triangle-right","filled":true,"color":"#13315c","opacity":1,"size":260},"encoding":{"x":{"field":"year","type":"quantitative","scale":{"domain":[2010.72,2021.963],"nice":false,"zero":false}},"y":{"field":"value","type":"quantitative","scale":{"type":"log","domain":[10,318400],"nice":false},"axis":null}}},
{"data":{"values":[{"year":2020.56,"value":128000,"label":"(23-May-21, 35.197k)"}]},"mark":{"type":"text","font":"Liberation Sans","fontSize":25,"color":"#ffffff","align":"center","baseline":"middle"},"encoding":{"x":{"field":"year","type":"quantitative","scale":{"domain":[2010.72,2021.963],"nice":false,"zero":false}},"y":{"field":"value","type":"quantitative","scale":{"type":"log","domain":[10,318400],"nice":false},"axis":null},"text":{"field":"label"}}},
{"data":{"values":[{"year":2019.44,"value":128000,"label":"BTC Price"}]},"mark":{"type":"text","font":"Liberation Sans","fontSize":25,"color":"#13315c","align":"center","baseline":"middle"},"encoding":{"x":{"field":"year","type":"quantitative","scale":{"domain":[2010.72,2021.963],"nice":false,"zero":false}},"y":{"field":"value","type":"quantitative","scale":{"type":"log","domain":[10,318400],"nice":false},"axis":null},"text":{"field":"label"}}},
{"data":{"values":[{"year":2019.595,"value":266000,"icon":"camera"},{"year":2019.95,"value":266000,"icon":"zoom"},{"year":2020.237,"value":266000,"icon":"pan"},{"year":2020.604,"value":266000,"icon":"plus"},{"year":2020.879,"value":266000,"icon":"minus"},{"year":2021.154,"value":266000,"icon":"autoscale"},{"year":2021.43,"value":266000,"icon":"home"},{"year":2021.78,"value":266000,"icon":"spike"},{"year":2022.083,"value":266000,"icon":"closest"},{"year":2022.352,"value":266000,"icon":"compare"},{"year":2022.713,"value":266000,"icon":"logo"}]},"mark":{"type":"point","filled":true,"opacity":1,"size":900},"encoding":{"x":{"field":"year","type":"quantitative","scale":{"domain":[2010.72,2021.963],"nice":false,"zero":false}},"y":{"field":"value","type":"quantitative","scale":{"type":"log","domain":[10,318400],"nice":false},"axis":null},"shape":{"field":"icon","type":"nominal","legend":null,"scale":{"domain":["camera","zoom","pan","plus","minus","autoscale","home","spike","closest","compare","logo"],"range":["M-1,-.6L-.4,-.6L-.25,-.9L.25,-.9L.4,-.6L1,-.6L1,.8L-1,.8Z M0,-.35L-.4,0L0,.4L.4,0Z","M-.9,-.3A.6,.6 0 1 1 .3,-.3A.6,.6 0 1 1 -.9,-.3Z M-.65,-.3A.35,.35 0 1 0 .05,-.3A.35,.35 0 1 0 -.65,-.3Z M.1,.2L.3,0L1,.7L.8,.9Z","M-.12,-.7L-.3,-.7L0,-1L.3,-.7L.12,-.7L.12,-.12L.7,-.12L.7,-.3L1,0L.7,.3L.7,.12L.12,.12L.12,.7L.3,.7L0,1L-.3,.7L-.12,.7L-.12,.12L-.7,.12L-.7,.3L-1,0L-.7,-.3L-.7,-.12L-.12,-.12Z","M-.8,-.8L.8,-.8L.8,.8L-.8,.8Z M-.12,-.5L-.12,-.12L-.5,-.12L-.5,.12L-.12,.12L-.12,.5L.12,.5L.12,.12L.5,.12L.5,-.12L.12,-.12L.12,-.5Z","M-.8,-.8L.8,-.8L.8,.8L-.8,.8Z M-.5,-.12L-.5,.12L.5,.12L.5,-.12Z","M-1,-1L-.4,-1L-.4,-.85L-.85,-.85L-.85,-.4L-1,-.4Z M.4,-1L1,-1L1,-.4L.85,-.4L.85,-.85L.4,-.85Z M1,.4L1,1L.4,1L.4,.85L.85,.85L.85,.4Z M-1,.4L-.85,.4L-.85,.85L-.4,.85L-.4,1L-1,1Z M-.5,-.35L-.35,-.5L0,-.15L.35,-.5L.5,-.35L.15,0L.5,.35L.35,.5L0,.15L-.35,.5L-.5,.35L-.15,0Z","M0,-1L1,0L.7,0L.7,.9L.2,.9L.2,.3L-.2,.3L-.2,.9L-.7,.9L-.7,0L-1,0Z","M-1,-.7L-.7,-.7L-.7,-.4L-1,-.4Z M-.4,-.7L-.1,-.7L-.1,-.4L-.4,-.4Z M.2,-.9L.7,-.9L.7,-.4L.2,-.4Z M.35,-.2L.55,-.2L.55,.1L.35,.1Z","M-1,-.4L-.6,-.8L1,-.8L1,.2L-.6,.2Z","M-1,-.9L1,-.9L1,-.4L-1,-.4Z M-1,.1L1,.1L1,.6L-1,.6Z","M-1,-1L1,-1L1,1L-1,1Z M-.6,-.5L-.6,.6L-.4,.6L-.4,-.5Z M-.15,-.5L-.15,.6L.05,.6L.05,-.5Z M.3,-.5L.3,.6L.5,.6L.5,-.5Z"]}},"fill":{"field":"icon","type":"nominal","legend":null,"scale":{"domain":["camera","zoom","pan","plus","minus","autoscale","home","spike","closest","compare","logo"],"range":["#c6c6c6","#5f5f5f","#c6c6c6","#c6c6c6","#c6c6c6","#c6c6c6","#c6c6c6","#c6c6c6","#5f5f5f","#c6c6c6","#34466e"]}}}},
{"data":{"values":[{"year":2011.418,"value":400000},{"year":2023.825,"value":27400}]},"mark":{"type":"line","color":"#f04028","strokeWidth":9},"encoding":{"x":{"field":"year","type":"quantitative","scale":{"domain":[2010.72,2021.963],"nice":false,"zero":false}},"y":{"field":"value","type":"quantitative","scale":{"type":"log","domain":[10,318400],"nice":false},"axis":null}}},
{"data":{"values":[{"year":2015.01,"value":141,"line":"a"},{"year":2018.01,"value":141,"line":"a"},{"year":2019.05,"value":189,"line":"b"},{"year":2022.05,"value":189,"line":"b"}]},"mark":{"type":"line","color":"#f04028","strokeWidth":10},"encoding":{"x":{"field":"year","type":"quantitative","scale":{"domain":[2010.72,2021.963],"nice":false,"zero":false}},"y":{"field":"value","type":"quantitative","scale":{"type":"log","domain":[10,318400],"nice":false},"axis":null},"detail":{"field":"line"}}},
{"data":{"values":[{"year":2011.418,"value":1083,"line":"a"},{"year":2017.003,"value":261600,"line":"a"},{"year":2013.905,"value":12160,"line":"b"},{"year":2023.09,"value":1422000,"line":"b"},{"year":2017.837,"value":93500,"line":"c"},{"year":2023.825,"value":298500,"line":"c"}]},"mark":{"type":"line","color":"#1438f5","strokeWidth":9,"strokeDash":[27,24]},"encoding":{"x":{"field":"year","type":"quantitative","scale":{"domain":[2010.72,2021.963],"nice":false,"zero":false}},"y":{"field":"value","type":"quantitative","scale":{"type":"log","domain":[10,318400],"nice":false},"axis":null},"detail":{"field":"line"}}},
{"data":{"values":[{"year":2021.657,"value":18370},{"year":2021.673,"value":22300},{"year":2021.704,"value":27200},{"year":2021.768,"value":33100},{"year":2021.847,"value":37300},{"year":2021.927,"value":37900}]},"mark":{"type":"line","color":"#f29c38","strokeWidth":8,"interpolate":"monotone"},"encoding":{"x":{"field":"year","type":"quantitative","scale":{"domain":[2010.72,2021.963],"nice":false,"zero":false}},"y":{"field":"value","type":"quantitative","scale":{"type":"log","domain":[10,318400],"nice":false},"axis":null}}},
{"data":{"values":[{"year":2021.682,"value":54100},{"year":2021.72,"value":66700},{"year":2021.784,"value":94800},{"year":2021.863,"value":124000},{"year":2021.959,"value":135000},{"year":2022.07,"value":109000}]},"mark":{"type":"line","color":"#f29c38","strokeWidth":8,"interpolate":"monotone"},"encoding":{"x":{"field":"year","type":"quantitative","scale":{"domain":[2010.72,2021.963],"nice":false,"zero":false}},"y":{"field":"value","type":"quantitative","scale":{"type":"log","domain":[0.02723,138000],"nice":false},"axis":null}}},
{"data":{"values":[{"year":2016.34,"value":734000,"label":"Source: lookintobitcoin.com"}]},"mark":{"type":"text","font":"Roboto","fontWeight":300,"fontSize":32,"color":"#444444","align":"center","baseline":"middle"},"encoding":{"x":{"field":"year","type":"quantitative","scale":{"domain":[2010.72,2021.963],"nice":false,"zero":false}},"y":{"field":"value","type":"quantitative","scale":{"type":"log","domain":[10,318400],"nice":false},"axis":null},"text":{"field":"label"}}},
{"data":{"values":[{"start":2015.2,"end":2017.28,"low":0.765,"high":1.53}]},"mark":{"type":"rect","color":"#5fd553"},"encoding":{"x":{"field":"start","type":"quantitative","scale":{"domain":[2010.72,2021.963],"nice":false,"zero":false}},"x2":{"field":"end"},"y":{"field":"low","type":"quantitative","scale":{"type":"log","domain":[10,318400],"nice":false},"axis":null},"y2":{"field":"high"}}},
{"data":{"values":[{"year":2016.24,"value":1.08,"label":"Access Indicator Alerts"}]},"mark":{"type":"text","font":"DejaVu Sans","fontWeight":"bold","fontSize":21.5,"color":"#ffffff","align":"center","baseline":"middle"},"encoding":{"x":{"field":"year","type":"quantitative","scale":{"domain":[2010.72,2021.963],"nice":false,"zero":false}},"y":{"field":"value","type":"quantitative","scale":{"type":"log","domain":[10,318400],"nice":false},"axis":null},"text":{"field":"label"}}}
]
}
